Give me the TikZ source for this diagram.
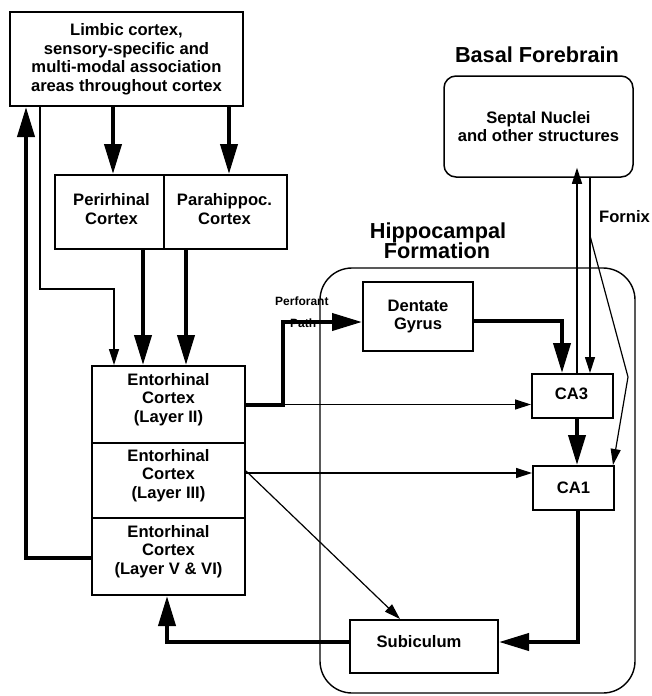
\documentclass[tikz,border=0pt]{standalone}
\usepackage{fontspec}
\setmainfont{Liberation Sans}
\usetikzlibrary{arrows.meta}
\begin{document}
\begin{tikzpicture}[x=1pt,y=-1pt,
  box/.style={draw, line width=2pt, inner sep=0pt},
  txt/.style={font=\fontsize{16.6}{18.5}\selectfont\bfseries, align=center, inner sep=0pt},
  ttl/.style={font=\fontsize{21.7}{20}\selectfont\bfseries, inner sep=0pt},
  smalltxt/.style={font=\fontsize{12}{13}\selectfont\bfseries, inner sep=0pt},
  big/.style={line width=4pt, -{Triangle[length=30pt,width=17pt]}},
  small/.style={line width=1.2pt, -{Triangle[length=16pt,width=10pt]}},
  line join=miter]
\useasboundingbox (0,0) rectangle (652,696);
% boxes
\node[box, minimum width=233, minimum height=94] (limbic) at (126.5,59) {};
\node[txt] at (limbic.center) {Limbic cortex,\\sensory-specific and\\multi-modal association\\areas throughout cortex};
\node[box, minimum width=109, minimum height=74] (peri) at (109.5,212) {};
\node[txt] at ([xshift=2,yshift=3]peri.center) {Perirhinal\\Cortex};
\node[box, minimum width=123, minimum height=74] (para) at (225.5,212) {};
\node[txt] at ([xshift=-1,yshift=3]para.center) {Parahippoc.\\Cortex};
\node[box, minimum width=153, minimum height=77] (l2) at (168.5,404.5) {};
\node[txt] at ([yshift=5]l2.center) {Entorhinal\\Cortex\\(Layer II)};
\node[box, minimum width=153, minimum height=75] (l3) at (168.5,480.5) {};
\node[txt] at ([yshift=5]l3.center) {Entorhinal\\Cortex\\(Layer III)};
\node[box, minimum width=153, minimum height=77] (l5) at (168.5,556.5) {};
\node[txt] at ([yshift=5]l5.center) {Entorhinal\\Cortex\\(Layer V \& VI)};
\node[box, minimum width=110, minimum height=69] (dg) at (418,316.5) {};
\node[txt] at (dg.center) {Dentate\\Gyrus};
\node[box, minimum width=81, minimum height=44] (ca3) at (572.5,396) {};
\node[txt] at ([xshift=-1,yshift=2]ca3.center) {CA3};
\node[box, minimum width=81, minimum height=44] (ca1) at (573.5,488) {};
\node[txt] at (ca1.center) {CA1};
\node[box, minimum width=148, minimum height=53] (sub) at (424,646.5) {};
\node[txt] at ([xshift=-5,yshift=5]sub.center) {Subiculum};
\node[draw, line width=1.5pt, rounded corners=12pt, minimum width=189, minimum height=101, inner sep=0pt] (septal) at (538.5,126.5) {};
\node[txt] at (septal.center) {Septal Nuclei\\and other structures};
\node[draw, line width=1.4pt, rounded corners=32pt, minimum width=315, minimum height=425, inner sep=0pt] (hf) at (477.5,480.5) {};
% titles
\node[ttl, anchor=base] (bf) at (537,62) {Basal Forebrain};
\node[ttl, anchor=base] (hf1) at (438,238) {Hippocampal};
\node[ttl, anchor=base] (hf2) at (437,258) {Formation};
\node[txt, anchor=base west] (fx) at (599,222) {Fornix};
\node[smalltxt, anchor=base west] (pp1) at (275,305) {Perforant};
\node[smalltxt, anchor=base west] (pp2) at (290,327) {Path};
% connectors
\draw[big] ([xshift=-13.5]limbic.south) -- ([xshift=3.5]peri.north);
\draw[big] ([xshift=102.5]limbic.south) -- ([xshift=3.5]para.north);
\draw[big] ([yshift=-1.5]l5.west) -| ([xshift=-100.5]limbic.south);
\draw[small] ([xshift=-86.5]limbic.south) -- ++(0,182) -| ([xshift=-54.5]l2.north);
\draw[big] ([xshift=33.5]peri.south) -- ([xshift=-25.5]l2.north);
\draw[big] ([xshift=-39.5]para.south) -- ([xshift=17.5]l2.north);
\draw[big] (l2.east) -- ++(37,0) |- ([yshift=-5.5]dg.west);
\draw[small] (l2.east) -- (l2.east -| ca3.west);
\draw[small] ([yshift=7.5]l3.east) -- ([yshift=7.5]l3.east -| ca1.west);
\draw[small] ([yshift=9.5]l3.east) -- ([xshift=-24]sub.north);
\draw[big] ([yshift=-4.5]dg.east) -| ([xshift=-10.5]ca3.north);
\draw[big] ([xshift=4.5]ca3.south) -- ([xshift=3.5]ca1.north);
\draw[big] ([xshift=4.5]ca1.south) |- ([yshift=4.5]sub.east);
\draw[big] ([yshift=4.5]sub.west) -| ([xshift=-1.5]l5.south);
\draw[small] ([xshift=4.5]ca3.north) -- ([xshift=38.5,yshift=10]septal.south);
\draw[small] ([xshift=51.5]septal.south) -- ([xshift=17.5]ca3.north);
\coordinate (fxbend) at (628,377);
\draw[small] ([xshift=51.5]septal.south) -- ++(0,58) -- (fxbend) -- ([xshift=39.5]ca1.north);
\end{tikzpicture}
\end{document}
